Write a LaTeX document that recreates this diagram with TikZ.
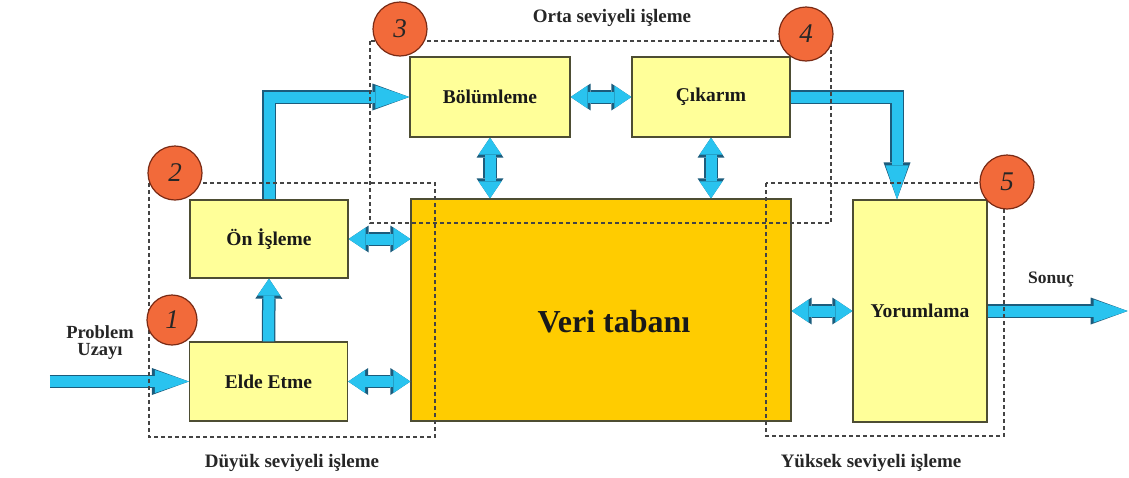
\documentclass[tikz,border=0pt]{standalone}
\usepackage{fontspec}
\setmainfont{Liberation Serif}
\usetikzlibrary{arrows.meta,positioning}

\definecolor{boxfill}{HTML}{FFFF99}
\definecolor{boxline}{HTML}{4D4D33}
\definecolor{dbfill}{HTML}{FFCC00}
\definecolor{pipefill}{HTML}{29C3EF}
\definecolor{pipeline}{HTML}{1C5C7C}
\definecolor{badgefill}{HTML}{F26A3A}
\definecolor{badgeline}{HTML}{7A2A14}
\definecolor{zonegray}{HTML}{444444}

\tikzset{
  stage/.style={draw=boxline, fill=boxfill, line width=1.3pt, font=\fontsize{19.5}{22}\selectfont\bfseries, text=black!90},
  zone/.style={draw=zonegray, line width=1.3pt, dash pattern=on 4pt off 3pt},
  badge/.style={circle, draw=badgeline, fill=badgefill, line width=1.2pt, minimum size=54pt, inner sep=0pt, font=\fontsize{27}{27}\selectfont\itshape, text=black!85},
  caption/.style={font=\fontsize{19}{20}\selectfont\bfseries, text=black!85},
  longway/.style={line width=11pt, draw=pipefill,
    -{Triangle[length=34pt,width=23pt,line width=0pt]},
    preaction={draw=pipeline, line width=13.5pt, -{Triangle[length=37pt,width=27pt,line width=0pt]}}},
  shortway/.style={line width=11pt, draw=pipefill,
    -{Triangle[length=17pt,width=23pt,line width=0pt]},
    preaction={draw=pipeline, line width=13.5pt, -{Triangle[length=20pt,width=27pt,line width=0pt]}}},
  twoway/.style={line width=11pt, draw=pipefill,
    {Triangle[length=17pt,width=23pt,line width=0pt]}-{Triangle[length=17pt,width=23pt,line width=0pt]},
    preaction={draw=pipeline, line width=13.5pt, {Triangle[length=20pt,width=27pt,line width=0pt]}-{Triangle[length=20pt,width=27pt,line width=0pt]}}}
}

\begin{document}
\begin{tikzpicture}[x=1pt, y=-1pt]
\useasboundingbox (0,0) rectangle (1129,477);
\node[stage, minimum width=158pt, minimum height=79pt] (elde) at (268.5,381.5) {Elde Etme};
\node[stage, minimum width=158pt, minimum height=78pt] (on) at (269,239) {Ön İşleme};
\node[stage, minimum width=160pt, minimum height=80pt] (bol) at (490,97) {Bölümleme};
\node[stage, minimum width=158pt, minimum height=80pt] (cik) at (711,97) {Çıkarım};
\node[stage, fill=dbfill, minimum width=380pt, minimum height=222pt] (veri) at (601,310) {};
\node[font=\fontsize{32}{36}\selectfont\bfseries, text=black!90] (veritext) at ([shift={(13,12)}]veri.center) {Veri tabanı};
\node[stage, minimum width=134pt, minimum height=222pt] (yor) at (920,311) {Yorumlama};
\coordinate (src) at ([xshift=-139pt]elde.west);
\coordinate (yin) at ([xshift=-23pt]yor.north);
\coordinate (res) at ([xshift=140pt]yor.east);
\draw[longway] (src) -- (elde.west);
\draw[shortway] (elde.north) -- (on.south);
\draw[longway] (on.north) |- (bol.west);
\draw[twoway] (on.east) -- (on.east -| veri.west);
\draw[twoway] (elde.east) -- (elde.east -| veri.west);
\draw[twoway] (bol.east) -- (cik.west);
\draw[twoway] (bol.south) -- (bol.south |- veri.north);
\draw[twoway] (cik.south) -- (cik.south |- veri.north);
\draw[longway] (cik.east) -| (yin);
\draw[twoway] (yor.west -| veri.east) -- (yor.west);
\draw[longway] (yor.east) -- (res);
\draw[zone] (149,183) rectangle (435,437);
\draw[zone] (370,41) rectangle (831,223);
\draw[zone] (766,183) rectangle (1004,436);
\node[badge, minimum size=50pt] (b1) at (172,320) {1};
\node[badge] (b2) at (175,173) {2};
\node[badge] (b3) at (400,29) {3};
\node[badge] (b4) at (806,34) {4};
\node[badge] (b5) at (1007,182) {5};
\node[caption] (mid) at (612,18) {Orta seviyeli işleme};
\node[caption] (low) at (292,463) {Düyük seviyeli işleme};
\node[caption] (high) at (871,463) {Yüksek seviyeli işleme};
\node[caption, align=center, font=\fontsize{18.5}{17}\selectfont\bfseries] (prob) at (100,343) {Problem\\Uzayı};
\node[caption, font=\fontsize{17.5}{18}\selectfont\bfseries] (sonuc) at (1051,280) {Sonuç};
\end{tikzpicture}
\end{document}
